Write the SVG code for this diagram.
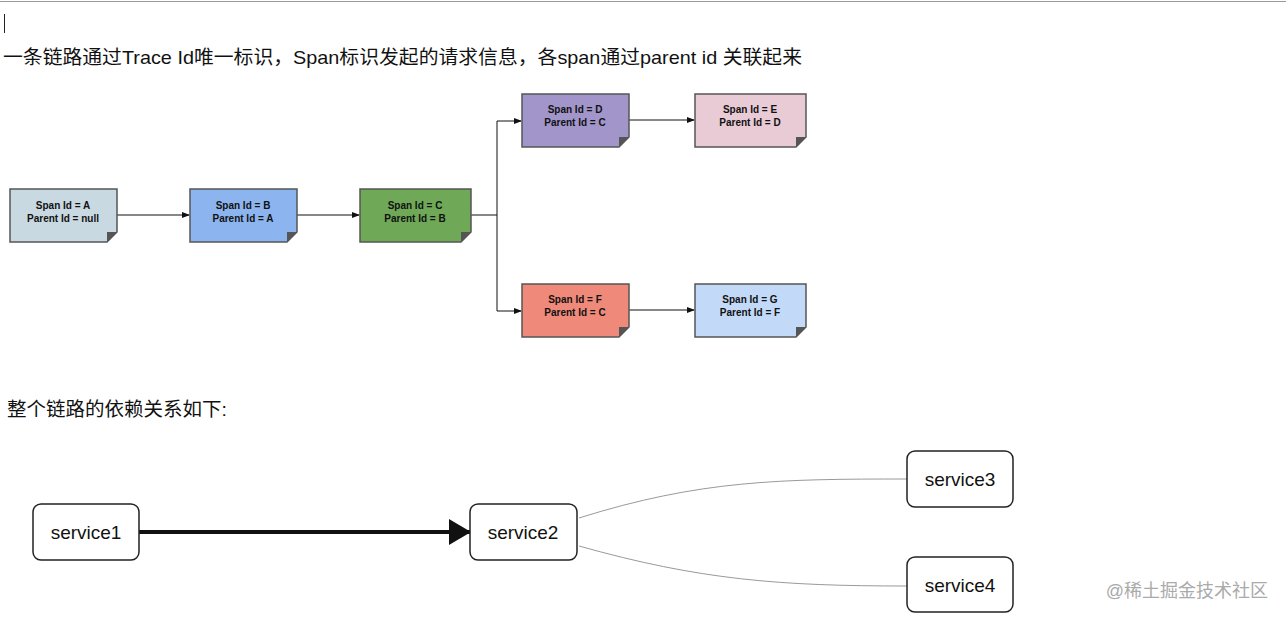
<svg xmlns="http://www.w3.org/2000/svg" width="1286" height="619" viewBox="0 0 1286 619">
<style>
.t{font-family:"Liberation Sans","Noto Sans CJK SC",sans-serif;fill:#111}
.h{font-size:19px}
.n{font-size:10px;text-anchor:middle;fill:#111;font-weight:bold}
.box{stroke:#555;stroke-width:1.5}
.s rect{fill:#fff;stroke:#222;stroke-width:1.5}
.s text{font-size:19px;text-anchor:middle}
.c{stroke:#111;stroke-width:1;fill:none}
.g{stroke:#999;stroke-width:1;fill:none}
</style>
<defs>
<marker id="a" markerWidth="8" markerHeight="6" refX="7" refY="3" orient="auto" markerUnits="userSpaceOnUse"><path d="M0,0L8,3L0,6z" fill="#111"/></marker>
<marker id="b" markerWidth="22" markerHeight="26" refX="21" refY="13" orient="auto" markerUnits="userSpaceOnUse"><path d="M0,0L22,13L0,26z" fill="#111"/></marker>
</defs>
<rect width="1286" height="619" fill="#fff"/>
<line x1="0" y1="1.5" x2="1286" y2="1.5" stroke="#999"/>
<line x1="4.5" y1="14" x2="4.5" y2="33" stroke="#222"/>
<text class="t h" x="3" y="64" textLength="799" lengthAdjust="spacingAndGlyphs">一条链路通过Trace Id唯一标识，Span标识发起的请求信息，各span通过parent id 关联起来</text>
<text class="t h" x="7" y="416" textLength="220" lengthAdjust="spacingAndGlyphs">整个链路的依赖关系如下:</text>
<g id="connectors">
<path class="c" d="M117,215H189" marker-end="url(#a)"/>
<path class="c" d="M297,215H359" marker-end="url(#a)"/>
<path class="c" d="M471,215H497V121H521" marker-end="url(#a)"/>
<path class="c" d="M497,215V311H521" marker-end="url(#a)"/>
<path class="c" d="M629,120H694" marker-end="url(#a)"/>
<path class="c" d="M629,310H694" marker-end="url(#a)"/>
<path d="M139,532H470" stroke="#111" stroke-width="4" marker-end="url(#b)"/>
<path class="g" d="M579,518C700,480 780,479 907,479"/>
<path class="g" d="M579,546C700,580 780,586 907,586"/>
</g>
<g id="A"><path class="box" d="M10,189H117V232L107,242H10Z" fill="#c9d9e1"/><path d="M107,242L117,232H107Z" fill="#555"/><text class="t n" x="63" y="209">Span Id = A</text><text class="t n" x="63" y="222">Parent Id = null</text></g>
<g id="B"><path class="box" d="M190,189H297V232L287,242H190Z" fill="#8cb5f0"/><path d="M287,242L297,232H287Z" fill="#555"/><text class="t n" x="243" y="209">Span Id = B</text><text class="t n" x="243" y="222">Parent Id = A</text></g>
<g id="C"><path class="box" d="M360,189H471V232L461,242H360Z" fill="#6fa857"/><path d="M461,242L471,232H461Z" fill="#555"/><text class="t n" x="415" y="209">Span Id = C</text><text class="t n" x="415" y="222">Parent Id = B</text></g>
<g id="D"><path class="box" d="M522,94H629V137L619,147H522Z" fill="#a195c9"/><path d="M619,147L629,137H619Z" fill="#555"/><text class="t n" x="575" y="113">Span Id = D</text><text class="t n" x="575" y="126">Parent Id = C</text></g>
<g id="E"><path class="box" d="M695,94H806V137L796,147H695Z" fill="#e9cbd6"/><path d="M796,147L806,137H796Z" fill="#555"/><text class="t n" x="750" y="113">Span Id = E</text><text class="t n" x="750" y="126">Parent Id = D</text></g>
<g id="F"><path class="box" d="M522,284H629V327L619,337H522Z" fill="#ef8a7a"/><path d="M619,337L629,327H619Z" fill="#555"/><text class="t n" x="575" y="303">Span Id = F</text><text class="t n" x="575" y="316">Parent Id = C</text></g>
<g id="G"><path class="box" d="M695,284H806V327L796,337H695Z" fill="#c2d9f8"/><path d="M796,337L806,327H796Z" fill="#555"/><text class="t n" x="750" y="303">Span Id = G</text><text class="t n" x="750" y="316">Parent Id = F</text></g>
<g id="service1" class="s"><rect x="33" y="504" width="106" height="56" rx="8"/><text class="t" x="86" y="539">service1</text></g>
<g id="service2" class="s"><rect x="470" y="504" width="107" height="56" rx="8"/><text class="t" x="523" y="539">service2</text></g>
<g id="service3" class="s"><rect x="907" y="451" width="106" height="56" rx="8"/><text class="t" x="960" y="486">service3</text></g>
<g id="service4" class="s"><rect x="907" y="557" width="106" height="55" rx="8"/><text class="t" x="960" y="592">service4</text></g>
<text class="t" x="1268" y="597" font-size="18" text-anchor="end" style="fill:#aaa">@稀土掘金技术社区</text>
</svg>
